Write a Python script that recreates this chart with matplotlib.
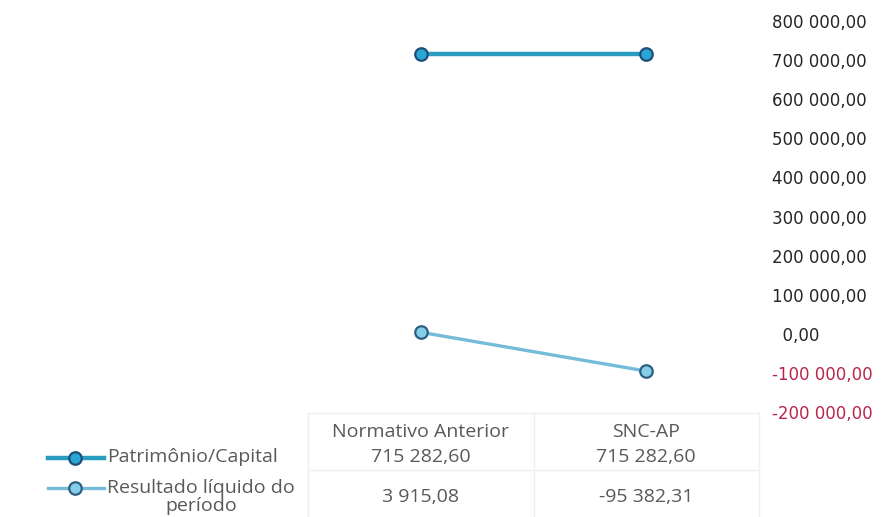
import numpy as np
import matplotlib.pyplot as plt
from matplotlib.lines import Line2D
from matplotlib.transforms import blended_transform_factory

# dados
categorias = ['Normativo Anterior', 'SNC-AP']
patrimonio = [715282.60, 715282.60]
resultado = [3915.08, -95382.31]
series_nomes = ['Patrimônio/Capital', 'Resultado líquido do\nperíodo']
yticks = [800000, 700000, 600000, 500000, 400000, 300000, 200000, 100000, 0, -100000, -200000]
ytick_labels = ['800 000,00', '700 000,00', '600 000,00', '500 000,00', '400 000,00',
                '300 000,00', '200 000,00', '100 000,00', '  0,00', '-100 000,00', '-200 000,00']


def fmt(v):
    return '{:,.2f}'.format(v).replace(',', ' ').replace('.', ',')


W, H = 893, 517
fig = plt.figure(figsize=(W / 100, H / 100), dpi=100)
ax = fig.add_axes([308 / W, 1 - 412 / H, 451 / W, 391 / H])

x = np.arange(len(categorias))
cores = [('#2a9cc0', '#2aa6d6', '#1d4f78', 3.2), ('#74bcd9', '#86cdea', '#2d5f80', 2.4)]
for vals, (lc, fc, ec, lw) in zip([patrimonio, resultado], cores):
    ax.plot(x, vals, color=lc, lw=lw, marker='o', ms=9, mfc=fc, mec=ec, mew=1.6)

ax.set_xlim(-0.5, 1.5)
ax.set_ylim(-200000, 800000)
ax.set_yticks(yticks)
ax.set_yticklabels(ytick_labels)
ax.yaxis.tick_right()
ax.tick_params(axis='y', length=0, pad=9, labelsize=12)
for lab, v in zip(ax.get_yticklabels(), yticks):
    lab.set_horizontalalignment('left')
    lab.set_color('#b8264d' if v < 0 else '#262626')
ax.set_xticks([])
for s in ax.spines.values():
    s.set_visible(False)

# tabela de dados
tr = blended_transform_factory(ax.transData, fig.transFigure)
fy = lambda py: 1 - py / H
tab_font = dict(family='Open Sans', fontsize=14, color='#595959', ha='center', va='center')
for xi, c in zip(x, categorias):
    fig.text(xi, fy(432), c, transform=tr, **tab_font)
    fig.text(xi, fy(457), fmt(patrimonio[xi]), transform=tr, **tab_font)
    fig.text(xi, fy(497), fmt(resultado[xi]), transform=tr, **tab_font)

# linhas da tabela
lc_tab = '#efefef'
for py in [413, 470]:
    fig.add_artist(Line2D([308 / W, 759 / W], [fy(py), fy(py)], color=lc_tab, lw=1))
for px in [308, 534, 759]:
    fig.add_artist(Line2D([px / W, px / W], [fy(413), fy(517)], color=lc_tab, lw=1))

# legenda
for (lc, fc, ec, lw), nome, py, ty in zip(cores, series_nomes, [458, 488], [457, 497]):
    fig.add_artist(Line2D([48 / W, 104 / W], [fy(py), fy(py)], color=lc, lw=lw))
    fig.add_artist(Line2D([75 / W], [fy(py)], marker='o', ms=9, mfc=fc, mec=ec, mew=1.6))
    fig.text(107 / W, fy(ty), nome, family='Open Sans', fontsize=14, color='#595959',
             ha='left', va='center', multialignment='center', linespacing=1.0)

fig.savefig('out.png', dpi=100, facecolor='white')
